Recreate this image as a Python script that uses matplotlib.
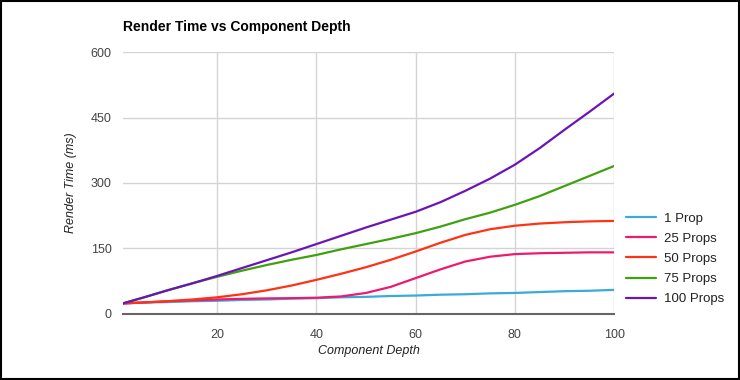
import numpy as np
import matplotlib
matplotlib.use("Agg")
import matplotlib.pyplot as plt

plt.rcParams['font.family'] = ['Liberation Sans', 'DejaVu Sans']

# data
depth = [1, 5, 10, 15, 20, 25, 30, 35, 40, 45, 50, 55, 60, 65, 70, 75, 80, 85, 90, 95, 100]
one_prop = [24, 26, 27, 29, 30, 32, 33, 35, 36, 38, 39, 41, 42, 44, 45, 47, 48, 50, 52, 53, 55]
props_25 = [24, 26, 29, 31, 33, 34.5, 35.5, 36, 37, 40, 48, 62, 82, 102, 120, 131, 137, 139, 140, 141, 141]
props_50 = [24, 26, 29, 33, 38, 45, 54, 65, 78, 92, 107, 124, 143, 163, 181, 194, 202, 207, 210, 212, 213]
props_75 = [24, 37, 54, 70, 85, 99, 112, 124, 135, 148, 160, 172, 185, 200, 217, 232, 250, 270, 293, 316, 339]
props_100 = [24, 37, 54, 70, 87, 105, 123, 141, 160, 179, 198, 216, 234, 256, 282, 310, 342, 380, 422, 463, 505]

series = [
    ("1 Prop", one_prop, "#3aaad9"),
    ("25 Props", props_25, "#ee1a6f"),
    ("50 Props", props_50, "#ff3214"),
    ("75 Props", props_75, "#40a10f"),
    ("100 Props", props_100, "#6a15b6"),
]

fig = plt.figure(figsize=(7.4, 3.8), dpi=100)
ax = fig.add_axes([0.166, 0.174, 0.664, 0.689])

for name, vals, col in series:
    ax.plot(depth, vals, color=col, lw=1.6, label=name, solid_capstyle='round',
            solid_joinstyle='round')

ax.set_xlim(1, 100)
ax.set_ylim(0, 600)
ax.set_xticks([20, 40, 60, 80, 100])
ax.set_yticks([0, 150, 300, 450, 600])
ax.grid(True, color="#d4d4d4", lw=1)
ax.set_axisbelow(True)
for s in ["top", "right", "left"]:
    ax.spines[s].set_visible(False)
ax.spines["bottom"].set_color("#666666")
ax.spines["bottom"].set_linewidth(1.5)
ax.tick_params(length=0, labelsize=9, colors="#444444", pad=8)
ax.tick_params(axis="x", pad=11)

ax.set_xlabel("Component Depth", fontsize=9, style="italic", color="#222222", labelpad=3)
ax.set_ylabel("Render Time (ms)", fontsize=9, style="italic", color="#222222", labelpad=10)

fig.text(0.166, 0.93, "Render Time vs Component Depth", fontsize=10,
         fontweight="bold", color="#000000", va="center")

leg = ax.legend(loc="center left", bbox_to_anchor=(1.0, 0.21), frameon=False,
                fontsize=9.5, handlelength=2.3, labelspacing=0.6, handletextpad=0.6)
for t in leg.get_texts():
    t.set_color("#222222")

# frame around the whole picture
fig.patches.append(plt.Rectangle((0.001, 0.002), 0.997, 0.995, transform=fig.transFigure,
                                 fill=False, edgecolor="black", lw=1.5))

fig.savefig("out.png", dpi=100)
